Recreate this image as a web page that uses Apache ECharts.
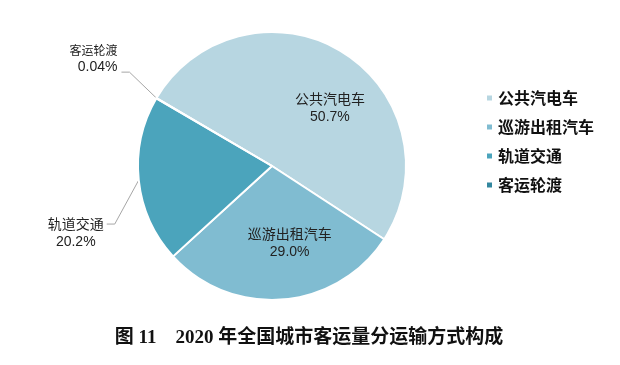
<!DOCTYPE html>
<html>
<head>
<meta charset="utf-8">
<script src="https://cdn.jsdelivr.net/npm/echarts@6/dist/echarts.min.js"></script>
<style>html,body{margin:0;padding:0;background:#fff;}#c{width:620px;height:365px;}</style>
</head>
<body>
<div id="c"></div>
<script>
var categories = ['公共汽电车', '巡游出租汽车', '轨道交通', '客运轮渡'];
var values = [50.7, 29.0, 20.2, 0.04];
var colors = ['#b7d6e1', '#80bcd1', '#4ba4bc', '#33879f'];
var titleText = '图 11\u00a0\u00a0\u00a0\u00a02020 年全国城市客运量分运输方式构成';

function fmt(v) { return (v < 1 ? v.toFixed(2) : v.toFixed(1)) + '%'; }

var labelFont = { fontSize: 14, lineHeight: 17, color: '#222', fontFamily: '"Liberation Sans", "Noto Sans CJK SC", sans-serif' };

var data = categories.map(function (name, i) {
  var inside = i < 2;
  var item = {
    name: name,
    value: values[i],
    itemStyle: { color: colors[i] },
    label: { position: inside ? 'inside' : 'outside' },
    labelLine: { show: !inside }
  };
  if (i === 3) {
    item.label.formatter = function (p) { return '{n|' + p.name + '}\n' + fmt(p.value); };
    item.label.rich = { n: { fontSize: 12, lineHeight: 17, color: '#222', fontFamily: '"Noto Sans CJK SC", sans-serif' } };
  }
  return item;
});

var chart = echarts.init(document.getElementById('c'), null, { renderer: 'canvas' });
chart.setOption({
  animation: false,
  backgroundColor: '#fff',
  title: {
    text: titleText,
    left: 304, top: 324, textAlign: 'center',
    textStyle: { fontSize: 19, fontWeight: 'bold', color: '#111', fontFamily: '"Liberation Serif", "Noto Sans CJK SC", serif' }
  },
  legend: {
    orient: 'vertical',
    left: 480, top: 85,
    icon: 'rect', itemWidth: 7, itemHeight: 7, itemGap: 13,
    textStyle: { fontSize: 16, fontWeight: 'bold', color: '#111', fontFamily: '"Noto Sans CJK SC", sans-serif' },
    data: categories
  },
  series: [{
    type: 'pie',
    center: [272, 166],
    radius: 134,
    startAngle: 149.5,
    clockwise: true,
    avoidLabelOverlap: false,
    silent: true,
    itemStyle: { borderColor: '#fff', borderWidth: 2 },
    label: Object.assign({
      show: true,
      align: 'center',
      formatter: function (p) { return p.name + '\n' + fmt(p.value); }
    }, labelFont),
    labelLine: { length: 20, length2: 8, lineStyle: { color: '#a6a6a6', width: 1 } },
    labelLayout: function (p) {
      var i = p.dataIndex;
      var pts = p.labelLinePoints;
      if (i === 0) return { dx: 21, dy: 2 };
      if (i === 1) return { dx: 12, dy: 8 };
      if (!pts) return {};
      var p0 = pts[0];
      if (i === 2) {
        return {
          x: p0[0] - 63, y: p0[1] + 44 + 10,
          align: 'center', verticalAlign: 'middle',
          labelLinePoints: [[p0[0], p0[1]], [p0[0] - 24, p0[1] + 44], [p0[0] - 32, p0[1] + 44]]
        };
      }
      return {
        x: p0[0] - 39, y: p0[1] - 26 - 13.5,
        align: 'right', verticalAlign: 'middle',
        labelLinePoints: [[p0[0], p0[1]], [p0[0] - 27, p0[1] - 26], [p0[0] - 35, p0[1] - 26]]
      };
    },
    data: data
  }]
});
</script>
</body>
</html>
